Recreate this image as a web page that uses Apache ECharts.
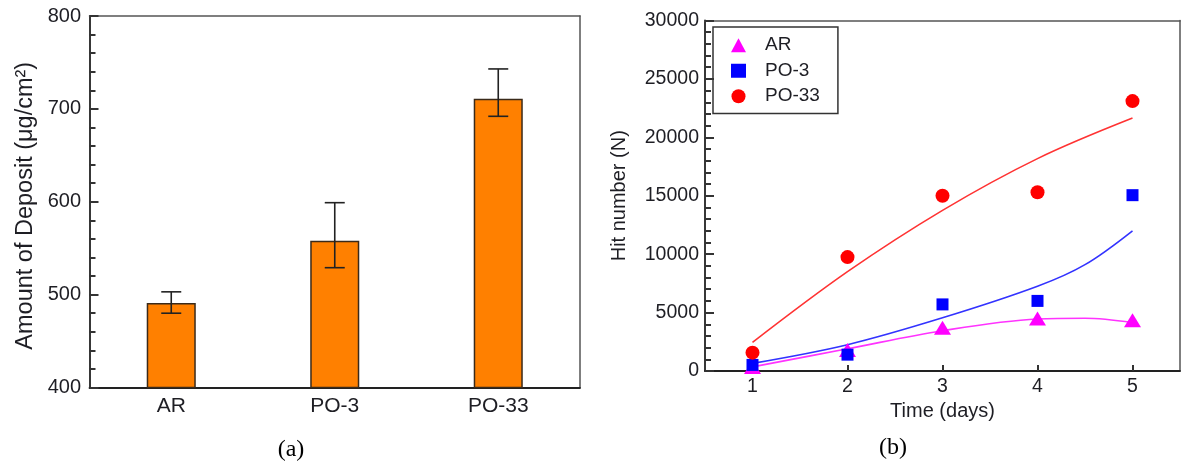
<!DOCTYPE html>
<html>
<head>
<meta charset="utf-8">
<script src="https://cdn.jsdelivr.net/npm/echarts@6/dist/echarts.min.js"></script>
<style>
  html, body { margin: 0; padding: 0; background: #fff; }
  #chart { width: 1181px; height: 466px; }
</style>
</head>
<body>
<div id="chart"></div>
<script>
// (a) deposit amount per surface condition, mean with error range
const categories = ['AR', 'PO-3', 'PO-33'];
const depositMean = [491, 558, 711];
const depositLow = [480, 529, 692];
const depositHigh = [503, 599, 743];

// (b) hit number versus immersion time
const days = [1, 2, 3, 4, 5];
const hitsAR = [340, 1800, 3700, 4500, 4350];
const hitsPO3 = [520, 1400, 5700, 6000, 15050];
const hitsPO33 = [1570, 9750, 15000, 15300, 23100];

// trend curves through each set
const fitDaysAR = [1, 2, 3, 4, 4.5, 5];
const fitAR = [350, 1900, 3450, 4450, 4520, 4150];
const fitDaysPO3 = [1, 2, 3, 4, 4.5, 5];
const fitPO3 = [650, 2250, 4550, 7250, 9100, 12000];
const fitDaysPO33 = [1, 2, 3, 4, 5];
const fitPO33 = [2450, 8500, 13750, 18180, 21650];

const dayTicks = [1, 2, 3, 4, 5];

const FONT = '"Liberation Sans", Arial, sans-serif';
const TEXT_COLOR = '#1e1e24';
const AXIS_COLOR = '#222';
const TICK_COLOR = '#333';
const FRAME_COLOR = '#555';

const pairs = (xs, ys) => xs.map((x, i) => [x, ys[i]]);
const plain = v => String(v);

// plain line used for the top and right edges of each frame
const frameAxis = extra => Object.assign({
  axisLine: { show: true, onZero: false, lineStyle: { color: FRAME_COLOR, width: 1.5 } },
  axisTick: { show: false },
  axisLabel: { show: false },
  splitLine: { show: false }
}, extra);

const chart = echarts.init(document.getElementById('chart'), null, { renderer: 'canvas' });

chart.setOption({
  animation: false,
  backgroundColor: '#fff',
  grid: [
    { left: 89.5, top: 16, width: 490.5, height: 371.5, containLabel: false },
    { left: 705, top: 20.5, width: 475, height: 350.5, containLabel: false }
  ],
  xAxis: [
    {
      gridIndex: 0, type: 'category', data: categories, position: 'bottom',
      axisLine: { lineStyle: { color: AXIS_COLOR, width: 1.8 } },
      axisTick: { show: false },
      axisLabel: { margin: 8, color: TEXT_COLOR, fontFamily: FONT, fontSize: 21 },
      splitLine: { show: false }
    },
    {
      gridIndex: 1, type: 'value', min: 0.5, max: 5.5, position: 'bottom',
      name: 'Time (days)', nameLocation: 'middle', nameGap: 23,
      nameTextStyle: { color: TEXT_COLOR, fontFamily: FONT, fontSize: 20 },
      axisLine: { show: true, onZero: false, lineStyle: { color: AXIS_COLOR, width: 1.8 } },
      axisTick: { show: true, inside: true, length: 6, customValues: dayTicks, lineStyle: { color: TICK_COLOR, width: 2 } },
      axisLabel: { margin: 6, customValues: dayTicks, color: TEXT_COLOR, fontFamily: FONT, fontSize: 19.5 },
      splitLine: { show: false }
    },
    frameAxis({ gridIndex: 0, type: 'category', data: categories, position: 'top' }),
    frameAxis({ gridIndex: 1, type: 'value', min: 0.5, max: 5.5, position: 'top' })
  ],
  yAxis: [
    {
      gridIndex: 0, type: 'value', min: 400, max: 800, interval: 100, position: 'left',
      name: 'Amount of Deposit (μg/cm²)', nameLocation: 'middle', nameGap: 52,
      nameTextStyle: { color: TEXT_COLOR, fontFamily: FONT, fontSize: 23.5, padding: [0, 8, 0, 0] },
      axisLine: { show: true, onZero: false, lineStyle: { color: AXIS_COLOR, width: 1.8 } },
      axisTick: { show: true, inside: true, length: 9, lineStyle: { color: TICK_COLOR, width: 2 } },
      minorTick: { show: true, splitNumber: 5, length: 6, lineStyle: { color: TICK_COLOR, width: 2 } },
      axisLabel: { margin: 8.5, formatter: plain, color: TEXT_COLOR, fontFamily: FONT, fontSize: 20 },
      splitLine: { show: false }
    },
    {
      gridIndex: 1, type: 'value', min: 0, max: 30000, interval: 5000, position: 'left',
      name: 'Hit number (N)', nameLocation: 'middle', nameGap: 76,
      nameTextStyle: { color: TEXT_COLOR, fontFamily: FONT, fontSize: 20 },
      axisLine: { show: true, onZero: false, lineStyle: { color: AXIS_COLOR, width: 1.8 } },
      axisTick: { show: true, inside: true, length: 9, lineStyle: { color: TICK_COLOR, width: 2 } },
      minorTick: { show: true, splitNumber: 5, length: 6, lineStyle: { color: TICK_COLOR, width: 2 } },
      axisLabel: { margin: 6, formatter: plain, color: TEXT_COLOR, fontFamily: FONT, fontSize: 19.5 },
      splitLine: { show: false }
    },
    frameAxis({ gridIndex: 0, type: 'value', min: 400, max: 800, position: 'right' }),
    frameAxis({ gridIndex: 1, type: 'value', min: 0, max: 30000, position: 'right' })
  ],
  legend: {
    data: ['AR', 'PO-3', 'PO-33'],
    orient: 'vertical',
    left: 713, top: 27,
    padding: [8.75, 18, 7.75, 18],
    itemGap: 6.5,
    itemWidth: 15, itemHeight: 14,
    borderColor: '#333', borderWidth: 1.5, borderRadius: 0,
    formatter: name => '{gap|}' + name,
    textStyle: {
      color: TEXT_COLOR, fontFamily: FONT, fontSize: 19,
      rich: { gap: { width: 14 } }
    }
  },
  series: [
    {
      type: 'bar', xAxisIndex: 0, yAxisIndex: 0, data: depositMean,
      barWidth: '30%',
      itemStyle: { color: '#ff8000', borderColor: '#3a2a1a', borderWidth: 1.5 }
    },
    {
      type: 'custom', xAxisIndex: 0, yAxisIndex: 0,
      data: categories.map((c, i) => [i, depositLow[i], depositHigh[i]]),
      renderItem: function (params, api) {
        const low = api.coord([api.value(0), api.value(1)]);
        const high = api.coord([api.value(0), api.value(2)]);
        const x = low[0];
        const half = 10;
        const style = { stroke: '#222', lineWidth: 1.6 };
        return {
          type: 'group',
          children: [
            { type: 'line', shape: { x1: x, y1: low[1], x2: x, y2: high[1] }, style },
            { type: 'line', shape: { x1: x - half, y1: low[1], x2: x + half, y2: low[1] }, style },
            { type: 'line', shape: { x1: x - half, y1: high[1], x2: x + half, y2: high[1] }, style }
          ]
        };
      },
      z: 5
    },
    {
      name: 'fit-AR', type: 'line', xAxisIndex: 1, yAxisIndex: 1, data: pairs(fitDaysAR, fitAR),
      smooth: 0.35, showSymbol: false, lineStyle: { color: '#ff33ff', width: 1.6 }, z: 2
    },
    {
      name: 'fit-PO-3', type: 'line', xAxisIndex: 1, yAxisIndex: 1, data: pairs(fitDaysPO3, fitPO3),
      smooth: 0.35, showSymbol: false, lineStyle: { color: '#3333ff', width: 1.6 }, z: 2
    },
    {
      name: 'fit-PO-33', type: 'line', xAxisIndex: 1, yAxisIndex: 1, data: pairs(fitDaysPO33, fitPO33),
      smooth: 0.35, showSymbol: false, lineStyle: { color: '#ff3333', width: 1.6 }, z: 2
    },
    {
      name: 'AR', type: 'scatter', xAxisIndex: 1, yAxisIndex: 1, data: pairs(days, hitsAR),
      symbol: 'triangle', symbolSize: [17, 14], itemStyle: { color: '#ff00ff', opacity: 1 }, z: 3
    },
    {
      name: 'PO-3', type: 'scatter', xAxisIndex: 1, yAxisIndex: 1, data: pairs(days, hitsPO3),
      symbol: 'rect', symbolSize: 12, itemStyle: { color: '#0000ff', opacity: 1 }, z: 4
    },
    {
      name: 'PO-33', type: 'scatter', xAxisIndex: 1, yAxisIndex: 1, data: pairs(days, hitsPO33),
      symbol: 'circle', symbolSize: 14, itemStyle: { color: '#ff0000', opacity: 1 }, z: 4
    }
  ],
  graphic: [
    { type: 'text', x: 291, y: 450, style: { text: '(a)', align: 'center', verticalAlign: 'middle', font: '24px "Liberation Serif", "Times New Roman", serif', fill: '#000' } },
    { type: 'text', x: 893, y: 448, style: { text: '(b)', align: 'center', verticalAlign: 'middle', font: '24px "Liberation Serif", "Times New Roman", serif', fill: '#000' } }
  ]
});
</script>
</body>
</html>
